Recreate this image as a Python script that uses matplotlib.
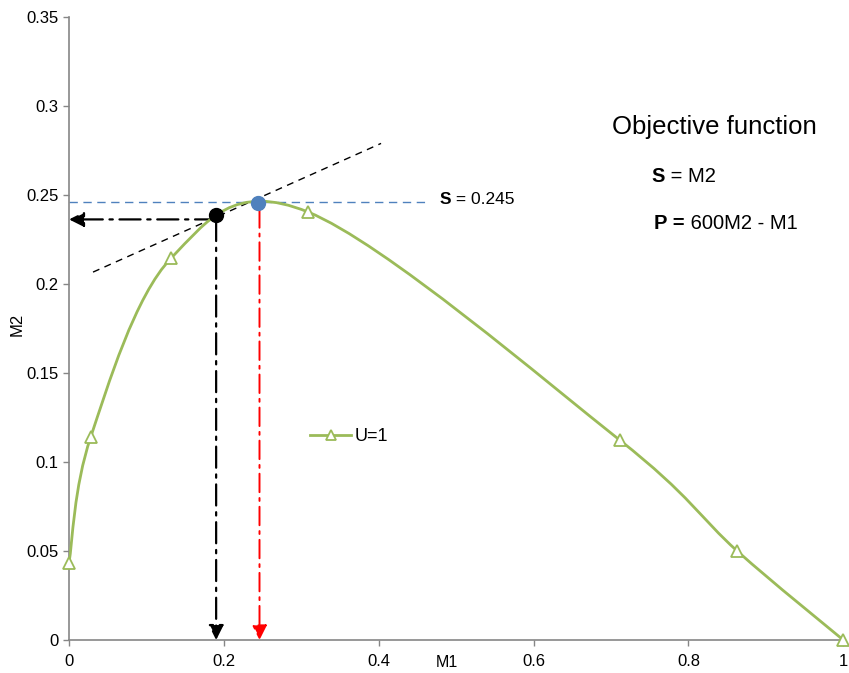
import numpy as np
import matplotlib
matplotlib.use("Agg")
import matplotlib.pyplot as plt
from matplotlib.path import Path
from matplotlib.patches import PathPatch
from matplotlib.lines import Line2D

plt.rcParams['font.family'] = ['Liberation Sans', 'DejaVu Sans']

# U=1 series
m1 = [0.0, 0.028, 0.132, 0.309, 0.711, 0.863, 1.0]
m2 = [0.0435, 0.114, 0.2146, 0.2404, 0.1124, 0.050, 0.0]

# optimum points
s_point = (0.244, 0.2455)   # max M2 (blue)
p_point = (0.19, 0.2388)    # tangent point (black)
s_value = 0.245
tangent_x = [0.031, 0.403]
tangent_y = [0.2067, 0.279]

green = '#9BBB59'
gray = '#868686'
dashdot = (0, (9.5, 3, 1.5, 3))


def smooth_path(xs, ys):
    # Excel-style smoothed line: Catmull-Rom segments as cubic Beziers
    pts = np.column_stack([xs, ys])
    n = len(pts)
    verts = [pts[0]]
    codes = [Path.MOVETO]
    for i in range(n - 1):
        p0 = pts[max(i - 1, 0)]
        p1 = pts[i]
        p2 = pts[i + 1]
        p3 = pts[min(i + 2, n - 1)]
        c1 = p1 + (p2 - p0) / 6.0
        c2 = p2 - (p3 - p1) / 6.0
        verts += [c1, c2, p2]
        codes += [Path.CURVE4] * 3
    return Path(verts, codes)


def two_part(ax, x, y, bold, rest, size):
    t = ax.text(x, y, bold, fontsize=size, fontweight='bold',
                ha='left', va='baseline')
    ax.annotate(rest, xy=(1, 0), xycoords=t, fontsize=size,
                ha='left', va='bottom')


fig = plt.figure(figsize=(8.49, 6.73), dpi=100)
ax = fig.add_axes([0.0813, 0.049, 0.912, 0.9257])

ax.add_patch(PathPatch(smooth_path(m1, m2), facecolor='none',
                       edgecolor=green, lw=2.0, zorder=3))
ax.plot(m1, m2, linestyle='none', marker='^', markersize=8.5,
        markerfacecolor='white', markeredgecolor=green, markeredgewidth=1.3,
        zorder=4, clip_on=False)

# horizontal S line
ax.plot([0, 0.46], [s_value + 0.001, s_value + 0.001], color='#4F81BD',
        lw=1.0, linestyle=(0, (6, 4)), zorder=2)
two_part(ax, 0.479, 0.245, 'S', ' = 0.245', 12.5)

# tangent line
ax.plot(tangent_x, tangent_y, color='black', lw=1.0,
        linestyle=(0, (5, 4)), zorder=2)

# arrows
head = '-|>,head_length=0.9,head_width=0.45'
ax.annotate('', xy=(0.0, 0.2363), xytext=(p_point[0], 0.2363),
            arrowprops=dict(arrowstyle=head, color='black', lw=1.6,
                            linestyle=dashdot, shrinkA=0, shrinkB=0), zorder=2)
ax.annotate('', xy=(p_point[0], 0.0), xytext=(p_point[0], 0.236),
            arrowprops=dict(arrowstyle=head, color='black', lw=1.6,
                            linestyle=dashdot, shrinkA=0, shrinkB=0), zorder=2)
ax.annotate('', xy=(s_point[0] + 0.002, 0.0), xytext=(s_point[0] + 0.002, 0.242),
            arrowprops=dict(arrowstyle=head, color='red', lw=1.4,
                            linestyle=dashdot, shrinkA=0, shrinkB=0), zorder=2)

ax.plot(*p_point, 'o', color='black', markersize=10, zorder=5)
ax.plot(*s_point, 'o', color='#4F81BD', markersize=10, zorder=5)

# objective function text
ax.text(0.701, 0.2842, 'Objective function', fontsize=18.5, ha='left',
        va='baseline')
two_part(ax, 0.752, 0.2572, 'S', ' = M2', 14.5)
two_part(ax, 0.756, 0.2307, 'P =', ' 600M2 - M1', 14.5)

handle = Line2D([], [], color=green, lw=2.0, marker='^', markersize=7,
                markerfacecolor='white', markeredgecolor=green,
                markeredgewidth=1.3)
ax.legend([handle], ['U=1'], loc='center left', bbox_to_anchor=(0.29, 0.326),
          frameon=False, fontsize=13, handlelength=2.3, handletextpad=0.2)

ax.set_xlim(0, 1)
ax.set_ylim(0, 0.35)
ax.set_xticks([0, 0.2, 0.4, 0.6, 0.8, 1.0])
ax.set_xticklabels(['0', '0.2', '0.4', '0.6', '0.8', '1'])
ax.set_yticks([0, 0.05, 0.1, 0.15, 0.2, 0.25, 0.3, 0.35])
ax.set_yticklabels(['0', '0.05', '0.1', '0.15', '0.2', '0.25', '0.3', '0.35'])
for side in ['top', 'right']:
    ax.spines[side].set_visible(False)
for side in ['left', 'bottom']:
    ax.spines[side].set_color(gray)
    ax.spines[side].set_linewidth(1.2)
ax.tick_params(axis='both', colors=gray, labelcolor='black', labelsize=12,
               length=4, width=1.0, direction='out')
ax.tick_params(axis='x', pad=6)
ax.set_xlabel('M1', fontsize=11.5)
ax.xaxis.set_label_coords(0.488, -0.024)
ax.set_ylabel('M2', fontsize=12)
ax.yaxis.set_label_coords(-0.057, 0.506)

fig.savefig('out.png', dpi=100)
